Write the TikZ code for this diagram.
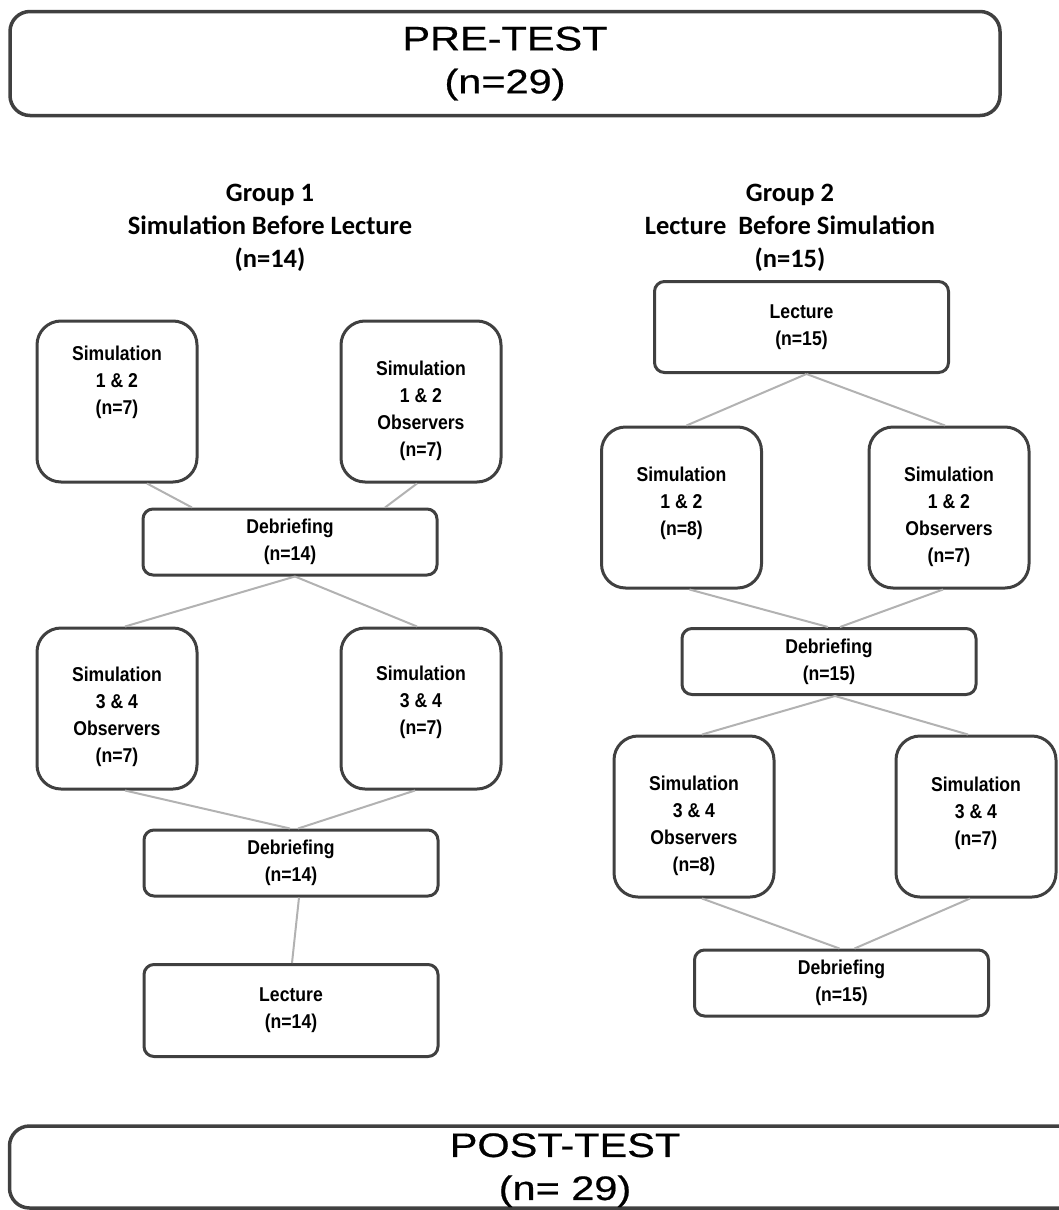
\documentclass[tikz,border=0pt]{standalone}
\usepackage{fontspec}
\newfontfamily\boxfont[FakeStretch=0.88]{Liberation Sans}
\newfontfamily\titlefont[FakeStretch=1.22,FakeBold=0.6]{Liberation Sans}
\newfontfamily\headfont{Carlito}
% extra depth under the last line / extra height over the first line
\newcommand{\pushup}[1]{\rule[-#1]{0pt}{#1}}
\newcommand{\pushdown}[1]{\rule{0pt}{#1}}

\begin{document}
\begin{tikzpicture}[x=1pt,y=-1pt,
  simbox/.style={draw=black!75, line width=3pt, rounded corners=24pt,
    minimum width=160pt, minimum height=161pt, inner sep=0pt, align=center,
    font=\boxfont\bfseries\fontsize{20}{27}\selectfont},
  debox/.style={simbox, rounded corners=10pt, minimum width=294pt, minimum height=66pt},
  testbox/.style={draw=black!75, line width=3.5pt, rounded corners=20pt, inner sep=0pt,
    align=center, font=\titlefont\fontsize{34}{43}\selectfont},
  head/.style={align=center, font=\headfont\bfseries\fontsize{26.5}{33}\selectfont},
  link/.style={draw=black!30, line width=2pt}]

  \useasboundingbox (0,0) rectangle (1059,1210);

  %pre and post test
  \node[testbox, minimum width=990pt, minimum height=104pt] (pre) at (505,63.5) {PRE-TEST\\(n=29)};
  \node[testbox, minimum width=1111pt, minimum height=82pt] (post) at (565,1167) {\pushdown{30pt}POST-TEST\\(n= 29)};

  %group headers
  \node[head] (head1) at (270,228) {Group 1\\Simulation Before Lecture\\(n=14)};
  \node[head] (head2) at (790,228) {Group 2\\Lecture\ \ Before Simulation\\(n=15)};

  %group 1 boxes
  \node[simbox] (g1sim12) at (117,401.5) {Simulation\\1 \& 2\\(n=7)\pushup{42pt}};
  \node[simbox] (g1obs12) at (421,401.5) {\pushdown{33pt}Simulation\\1 \& 2\\Observers\\(n=7)};
  \node[debox] (g1deb1) at (290,542) {Debriefing\\(n=14)};
  \node[simbox] (g1obs34) at (117,708.5) {\pushdown{31pt}Simulation\\3 \& 4\\Observers\\(n=7)};
  \node[simbox] (g1sim34) at (421,708.5) {Simulation\\3 \& 4\\(n=7)\pushup{16pt}};
  \node[debox] (g1deb2) at (291,863) {Debriefing\\(n=14)};
  \node[debox, minimum height=92pt] (g1lec) at (291,1010.5) {Lecture\\(n=14)};

  %group 2 boxes
  \node[debox, minimum height=91pt] (g2lec) at (801.5,327) {Lecture\\(n=15)};
  \node[simbox] (g2sim12) at (681.5,507.5) {Simulation\\1 \& 2\\(n=8)\pushup{12pt}};
  \node[simbox] (g2obs12) at (949,507.5) {\pushdown{33pt}Simulation\\1 \& 2\\Observers\\(n=7)};
  \node[debox] (g2deb1) at (829,661.5) {Debriefing\\(n=15)};
  \node[simbox] (g2obs34) at (694,816.5) {\pushdown{33pt}Simulation\\3 \& 4\\Observers\\(n=8)};
  \node[simbox] (g2sim34) at (976,816.5) {Simulation\\3 \& 4\\(n=7)\pushup{10pt}};
  \node[debox] (g2deb2) at (841.5,983) {Debriefing\\(n=15)};

  %connectors group 1
  \draw[link] ([xshift=30pt]g1sim12.south) -- ([xshift=-98pt]g1deb1.north);
  \draw[link] ([xshift=-4pt]g1obs12.south) -- ([xshift=95pt]g1deb1.north);
  \draw[link] ([xshift=5pt]g1deb1.south) -- ([xshift=8pt]g1obs34.north);
  \draw[link] ([xshift=5pt]g1deb1.south) -- ([xshift=-4pt]g1sim34.north);
  \draw[link] ([xshift=8pt]g1obs34.south) -- ([xshift=-1pt]g1deb2.north);
  \draw[link] ([xshift=-6pt]g1sim34.south) -- ([xshift=7pt]g1deb2.north);
  \draw[link] ([xshift=8pt]g1deb2.south) -- ([xshift=1pt]g1lec.north);

  %connectors group 2
  \draw[link] ([xshift=5pt]g2lec.south) -- ([xshift=5pt]g2sim12.north);
  \draw[link] ([xshift=5pt]g2lec.south) -- ([xshift=-4pt]g2obs12.north);
  \draw[link] ([xshift=8pt]g2sim12.south) -- ([xshift=-1pt]g2deb1.north);
  \draw[link] ([xshift=-6pt]g2obs12.south) -- ([xshift=11pt]g2deb1.north);
  \draw[link] ([xshift=6pt]g2deb1.south) -- ([xshift=8pt]g2obs34.north);
  \draw[link] ([xshift=6pt]g2deb1.south) -- ([xshift=-8pt]g2sim34.north);
  \draw[link] ([xshift=8pt]g2obs34.south) -- ([xshift=-2pt]g2deb2.north);
  \draw[link] ([xshift=-6pt]g2sim34.south) -- ([xshift=13pt]g2deb2.north);
\end{tikzpicture}
\end{document}
